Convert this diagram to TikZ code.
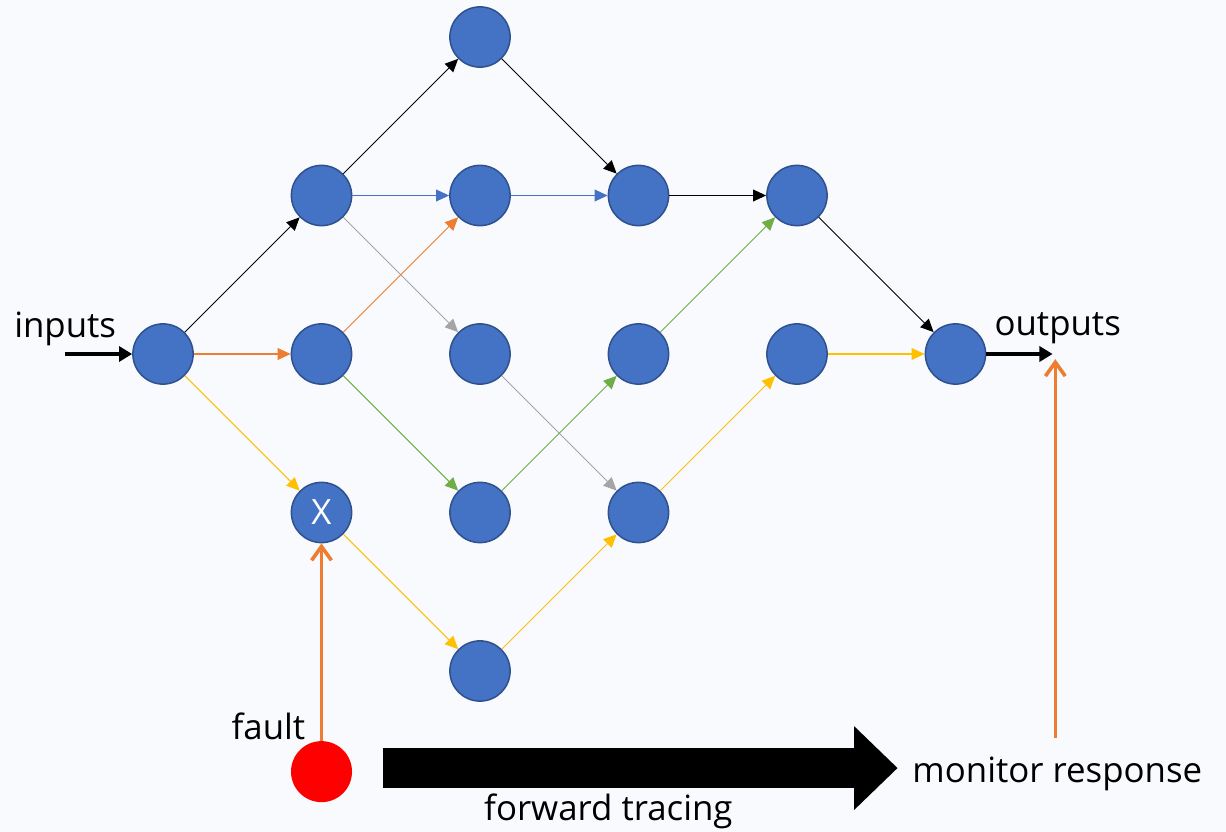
\documentclass[tikz,border=0pt]{standalone}
\usepackage{fontspec}
\setmainfont{Open Sans}
\usepackage{tikz}
\usetikzlibrary{positioning}
\usetikzlibrary{arrows.meta}
\definecolor{bgcol}{RGB}{248,250,254}
\definecolor{nodeblue}{RGB}{68,114,196}
\definecolor{nodeedge}{RGB}{47,82,143}
\definecolor{offorange}{RGB}{237,125,49}
\definecolor{offyellow}{RGB}{255,192,0}
\definecolor{offgreen}{RGB}{112,173,71}
\definecolor{offgray}{RGB}{165,165,165}
\tikzstyle{neuron} = [draw=nodeedge, fill=nodeblue, circle, line width=1.1pt, minimum size=1.52cm, inner sep=0pt]
\tikzstyle{faultsrc} = [fill=red, circle, minimum size=1.54cm, inner sep=0pt]
\tikzstyle{coord} = [coordinate]
\tikzstyle{txt} = [font=\fontsize{25}{30}\selectfont, inner sep=0pt]
\tikzstyle{wire} = [line width=0.75pt, -{Triangle[length=3.3mm,width=3mm]}]
\tikzstyle{thickwire} = [line width=2.2pt, -{Triangle[length=3.3mm,width=3.8mm]}]
\tikzstyle{probe} = [offorange, line width=2.6pt, -{Straight Barb[length=3.5mm,width=5mm]}]

\begin{document}
\begin{tikzpicture}[node distance=4cm and 4cm, on grid]
    \fill [bgcol] (-4.114,-12.063) rectangle (26.827,8.934);
    \useasboundingbox (-4.114,-12.063) rectangle (26.827,8.934);

    \node [neuron] (n0) {};
    \node [neuron, above right=of n0] (n11) {};
    \node [neuron, right=of n0] (n12) {};
    \node [neuron, below right=of n0, txt, text=white] (n13) {X};
    \node [neuron, above right=of n11] (n21) {};
    \node [neuron, right=of n11] (n22) {};
    \node [neuron, right=of n12] (n23) {};
    \node [neuron, right=of n13] (n24) {};
    \node [neuron, below right=of n13] (n25) {};
    \node [neuron, right=of n22] (n31) {};
    \node [neuron, right=of n23] (n32) {};
    \node [neuron, right=of n24] (n33) {};
    \node [neuron, right=of n31] (n41) {};
    \node [neuron, right=of n32] (n42) {};
    \node [neuron, below right=of n41] (n5) {};

    \draw [wire] (n0) -- (n11);
    \draw [wire, offorange] (n0) -- (n12);
    \draw [wire, offyellow] (n0) -- (n13);
    \draw [wire] (n11) -- (n21);
    \draw [wire, nodeblue] (n11) -- (n22);
    \draw [wire, offgray] (n11) -- (n23);
    \draw [wire, offorange] (n12) -- (n22);
    \draw [wire, offgreen] (n12) -- (n24);
    \draw [wire, offyellow] (n13) -- (n25);
    \draw [wire] (n21) -- (n31);
    \draw [wire, nodeblue] (n22) -- (n31);
    \draw [wire, offgray] (n23) -- (n33);
    \draw [wire, offgreen] (n24) -- (n32);
    \draw [wire, offyellow] (n25) -- (n33);
    \draw [wire] (n31) -- (n41);
    \draw [wire, offgreen] (n32) -- (n41);
    \draw [wire, offyellow] (n33) -- (n42);
    \draw [wire] (n41) -- (n5);
    \draw [wire, offyellow] (n42) -- (n5);

    % inputs and outputs
    \node [coord, left=2.47cm of n0] (in) {};
    \node [txt, above=0.63cm of in, anchor=center] (inlabel) {inputs};
    \draw [thickwire] (in) -- (n0);
    \node [coord, right=2.45cm of n5] (out) {};
    \node [txt, above right=0.66cm and 0.13cm of out, anchor=center] (outlabel) {outputs};
    \draw [thickwire] (n5) -- (out);

    % monitor
    \node [coord, below right=9.69cm and 2.52cm of n5] (monbot) {};
    \node [coord, below right=0.13cm and 2.52cm of n5] (montop) {};
    \draw [probe] (monbot) -- (montop);
    \node [txt, below right=0.91cm and 0.05cm of monbot, anchor=center] (monlabel) {monitor response};

    % fault injection
    \node [faultsrc, below=6.54cm of n13] (fault) {};
    \node [txt, above left=1.14cm and 1.34cm of fault, anchor=center] (faultlabel) {fault};
    \draw [probe] (fault) -- (n13);

    \node [coord, above right=0.09cm and 1.54cm of fault] (tracestart) {};
    \node [coord, above right=0.09cm and 14.54cm of fault] (traceend) {};
    \draw [line width=1.03cm, -{Triangle[length=1.1cm,width=2.05cm]}] (tracestart) -- (traceend);
    \node [txt, below right=1.01cm and 7.24cm of fault, anchor=center] (tracelabel) {forward tracing};
\end{tikzpicture}
\end{document}
